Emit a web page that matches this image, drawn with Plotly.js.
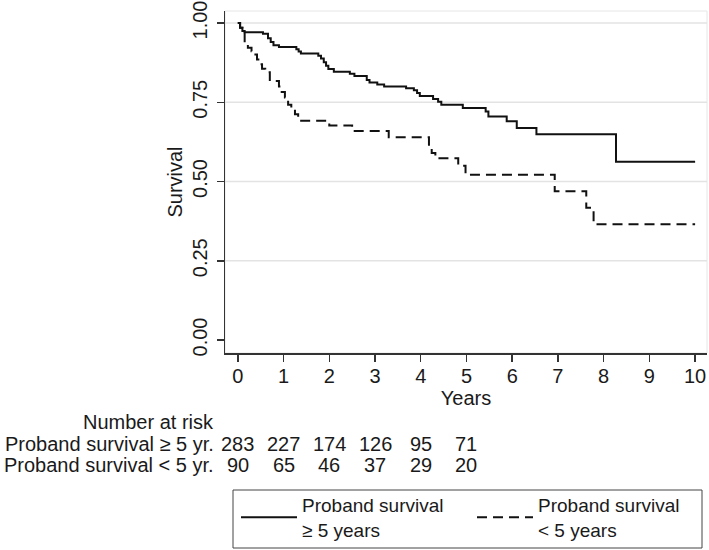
<!DOCTYPE html>
<html>
<head>
<meta charset="utf-8">
<script src="https://cdn.plot.ly/plotly-3.0.1.min.js"></script>
<style>html,body{margin:0;padding:0;background:#fff;}#chart{width:709px;height:550px;}</style>
</head>
<body>
<div id="chart"></div>
<script>
// Kaplan-Meier step data
const timeLong = [0, 0.05, 0.10, 0.15, 0.55, 0.66, 0.72, 0.78, 0.90, 1.28, 1.33, 1.38, 1.76, 1.82, 1.88, 1.93, 1.98, 2.10, 2.45, 2.55, 2.82, 2.88, 3.05, 3.20, 3.68, 3.85, 3.92, 3.98, 4.27, 4.38, 4.45, 4.92, 5.42, 5.48, 5.88, 6.10, 6.53, 8.27, 10.0];
const survLong = [1.0, 0.985, 0.975, 0.971, 0.966, 0.952, 0.940, 0.930, 0.924, 0.917, 0.910, 0.904, 0.897, 0.888, 0.876, 0.865, 0.855, 0.846, 0.840, 0.833, 0.820, 0.812, 0.806, 0.800, 0.794, 0.788, 0.779, 0.770, 0.760, 0.752, 0.742, 0.732, 0.721, 0.705, 0.690, 0.669, 0.649, 0.5625, 0.5625];

const timeShort = [0, 0.05, 0.10, 0.15, 0.22, 0.30, 0.35, 0.42, 0.48, 0.53, 0.60, 0.70, 0.90, 0.96, 1.03, 1.10, 1.17, 1.25, 1.32, 2.00, 2.50, 3.30, 4.18, 4.24, 4.32, 4.82, 4.98, 6.93, 7.62, 7.78, 10.0];
const survShort = [1.0, 0.985, 0.975, 0.932, 0.922, 0.911, 0.901, 0.885, 0.870, 0.856, 0.845, 0.817, 0.800, 0.782, 0.765, 0.742, 0.730, 0.712, 0.692, 0.677, 0.659, 0.640, 0.605, 0.590, 0.573, 0.550, 0.521, 0.469, 0.417, 0.365, 0.365];

const seriesNames = ["Proband survival<br>≥ 5 years", "Proband survival<br>< 5 years"];

// Number-at-risk table
const riskTimes = [0, 1, 2, 3, 4, 5];
const riskLabels = ["Proband survival ≥ 5 yr.", "Proband survival < 5 yr."];
const riskLong = [283, 227, 174, 126, 95, 71];
const riskShort = [90, 65, 46, 37, 29, 20];

const xTicks = [0, 1, 2, 3, 4, 5, 6, 7, 8, 9, 10];
const yTicks = [0, 0.25, 0.5, 0.75, 1];
const yTickText = ["0.00", "0.25", "0.50", "0.75", "1.00"];
const gridVals = [0.25, 0.5, 0.75, 1];

const FONT = "Liberation Sans, Arial, Helvetica, sans-serif";
const TXT = "#1a1a1a";

const W = 709, H = 550;
const M = {l: 225, r: 2, t: 11, b: 197, autoexpand: false};
const plotH = H - M.t - M.b;
const plotW = W - M.l - M.r;
const py = p => (H - M.b - p) / plotH;   // pixel y -> paper y
const px = p => (p - M.l) / plotW;       // pixel x -> paper x

const traces = [
  {x: timeLong, y: survLong, type: "scatter", mode: "lines", name: seriesNames[0],
   line: {shape: "hv", color: "#111", width: 2}},
  {x: timeShort, y: survShort, type: "scatter", mode: "lines", name: seriesNames[1],
   line: {shape: "hv", color: "#111", width: 2, dash: "10px,6px"}}
];

const shapes = [
  {type: "rect", xref: "paper", yref: "paper", x0: 0, x1: 1, y0: 0, y1: 1,
   line: {color: "#e6e6e6", width: 1}, layer: "below"},
  // legend frame
  {type: "rect", xref: "paper", yref: "paper", x0: px(233), x1: px(702), y0: py(490), y1: py(548),
   line: {color: "#444", width: 1}, fillcolor: "rgba(0,0,0,0)", layer: "above"}
].concat(gridVals.map(v => ({
  type: "line", xref: "paper", yref: "y", x0: 0, x1: 1, y0: v, y1: v,
  line: {color: "#e3e3e3", width: 1.5}, layer: "below"
})));

const annotations = [];
annotations.push({xref: "paper", yref: "paper", x: px(216), y: py(422), xanchor: "right", yanchor: "middle",
  text: "Number at risk", showarrow: false, font: {family: FONT, size: 20, color: TXT}});
const rows = [riskLong, riskShort];
const rowY = [444, 465];
rows.forEach((vals, r) => {
  annotations.push({xref: "paper", yref: "paper", x: px(216), y: py(rowY[r]), xanchor: "right", yanchor: "middle",
    text: riskLabels[r], showarrow: false, font: {family: FONT, size: 20, color: TXT}});
  vals.forEach((v, i) => {
    annotations.push({xref: "x", yref: "paper", x: riskTimes[i], y: py(rowY[r]), xanchor: "center", yanchor: "middle",
      text: String(v), showarrow: false, font: {family: FONT, size: 20, color: TXT}});
  });
});

const layout = {
  width: W, height: H,
  margin: M,
  paper_bgcolor: "#fff", plot_bgcolor: "#fff",
  font: {family: FONT, size: 20, color: TXT},
  showlegend: true,
  legend: {
    orientation: "h", x: px(236), xanchor: "left", y: py(486), yanchor: "top",
    borderwidth: 0, bgcolor: "rgba(0,0,0,0)",
    font: {family: FONT, size: 19, color: TXT},
    itemwidth: 56, entrywidth: 165, entrywidthmode: "pixels", valign: "middle",
    traceorder: "normal", tracegroupgap: 0
  },
  xaxis: {
    range: [-0.28, 10.26], tickvals: xTicks, ticks: "outside", ticklen: 7, tickwidth: 1.5,
    tickcolor: "#333", showline: true, linecolor: "#333", linewidth: 1.5,
    showgrid: false, zeroline: false, fixedrange: true, automargin: false,
    ticklabelstandoff: -3,
    tickfont: {family: FONT, size: 20, color: TXT},
    title: {text: "Years", font: {family: FONT, size: 20, color: TXT}, standoff: 0}
  },
  yaxis: {
    range: [-0.041, 1.0379], tickvals: yTicks, ticktext: yTickText, tickangle: -90,
    ticklabeloverflow: "allow", ticklabelstandoff: 2,
    ticks: "outside", ticklen: 7, tickwidth: 1.5, tickcolor: "#333",
    showline: true, linecolor: "#333", linewidth: 1.5,
    showgrid: false, zeroline: false, fixedrange: true, automargin: false,
    tickfont: {family: FONT, size: 20, color: TXT},
    title: {text: "Survival", font: {family: FONT, size: 20, color: TXT}, standoff: 0}
  },
  shapes: shapes,
  annotations: annotations
};

Plotly.newPlot("chart", traces, layout, {displayModeBar: false, staticPlot: true});
</script>
</body>
</html>
